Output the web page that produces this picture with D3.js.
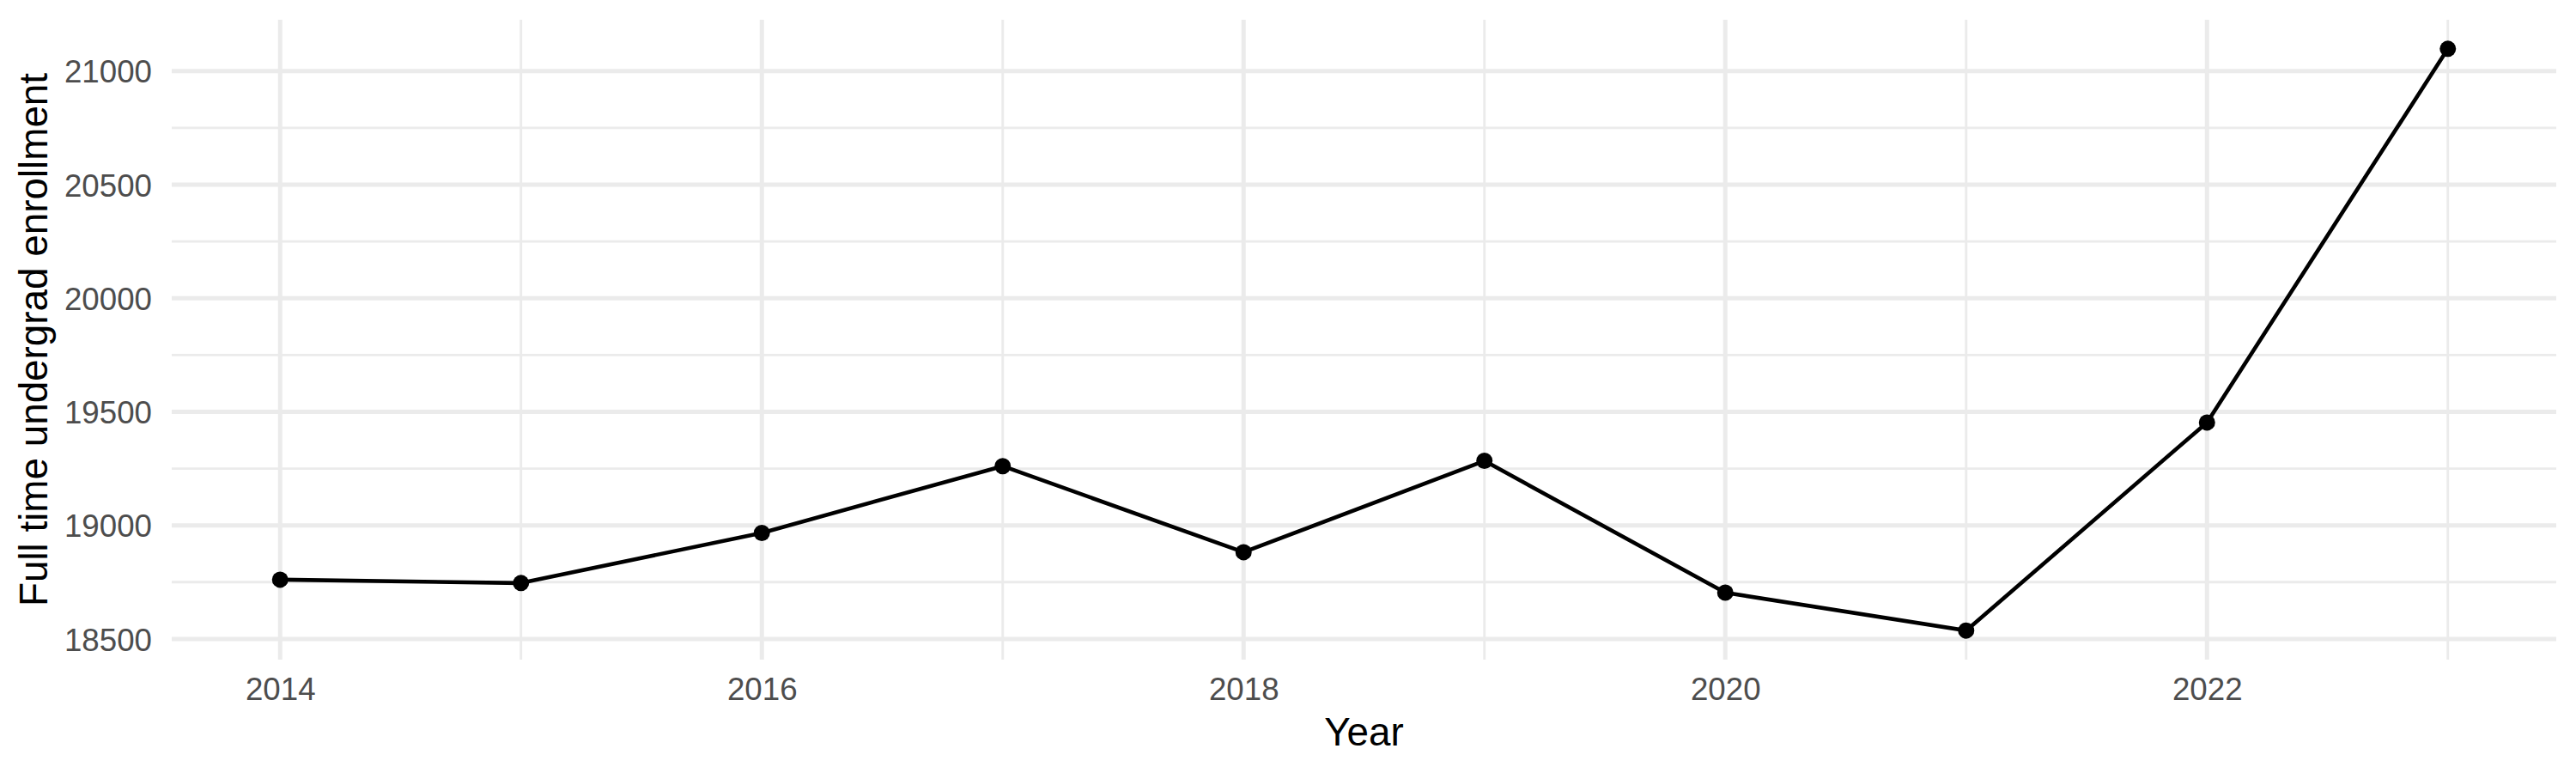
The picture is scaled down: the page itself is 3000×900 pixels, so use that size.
<!DOCTYPE html>
<html>
<head>
<meta charset="utf-8">
<script src="https://cdn.jsdelivr.net/npm/d3@7"></script>
<style>
	body { margin: 0; background: #ffffff; }
	svg text { font-family: "Liberation Sans", Arial, Helvetica, sans-serif; }
</style>
</head>
<body>
<div id="idChart"></div>
<script>
// values
var aYears = [2014, 2015, 2016, 2017, 2018, 2019, 2020, 2021, 2022, 2023];
var aEnrollment = [18761, 18746, 18967, 19261, 18882, 19284, 18704, 18537, 19453, 21098];

var aXMajor = [2014, 2016, 2018, 2020, 2022];
var aXMinor = [2015, 2017, 2019, 2021, 2023];
var aYMajor = [18500, 19000, 19500, 20000, 20500, 21000];
var aYMinor = [18750, 19250, 19750, 20250, 20750];

var sXTitle = "Year";
var sYTitle = "Full time undergrad enrollment";

var iWidth = 3000;
var iHeight = 900;
var oPanel = {left: 200, right: 2977, top: 23, bottom: 768};

var myCanvas = d3.select("#idChart").append("svg")
	.attr("width", iWidth)
	.attr("height", iHeight);

// ggplot style 5% expansion on both axes
var aXExt = d3.extent(aYears);
var fXPad = (aXExt[1] - aXExt[0]) * 0.05;
var aYExt = d3.extent(aEnrollment);
var fYPad = (aYExt[1] - aYExt[0]) * 0.05;

var xScale = d3.scaleLinear()
	.domain([aXExt[0] - fXPad, aXExt[1] + fXPad])
	.range([oPanel.left, oPanel.right]);

var yScale = d3.scaleLinear()
	.domain([aYExt[0] - fYPad, aYExt[1] + fYPad])
	.range([oPanel.bottom, oPanel.top]);

var myGrid = myCanvas.append("g");

// minor grid
myGrid.selectAll(".yMinor").data(aYMinor).enter().append("line")
	.attr("x1", oPanel.left).attr("x2", oPanel.right)
	.attr("y1", function(d) { return yScale(d); })
	.attr("y2", function(d) { return yScale(d); })
	.attr("stroke", "#ebebeb").attr("stroke-width", 2.9);

myGrid.selectAll(".xMinor").data(aXMinor).enter().append("line")
	.attr("y1", oPanel.top).attr("y2", oPanel.bottom)
	.attr("x1", function(d) { return xScale(d); })
	.attr("x2", function(d) { return xScale(d); })
	.attr("stroke", "#ebebeb").attr("stroke-width", 2.9);

// major grid
myGrid.selectAll(".yMajor").data(aYMajor).enter().append("line")
	.attr("x1", oPanel.left).attr("x2", oPanel.right)
	.attr("y1", function(d) { return yScale(d); })
	.attr("y2", function(d) { return yScale(d); })
	.attr("stroke", "#ebebeb").attr("stroke-width", 5);

myGrid.selectAll(".xMajor").data(aXMajor).enter().append("line")
	.attr("y1", oPanel.top).attr("y2", oPanel.bottom)
	.attr("x1", function(d) { return xScale(d); })
	.attr("x2", function(d) { return xScale(d); })
	.attr("stroke", "#ebebeb").attr("stroke-width", 5);

// axes, no domain line or ticks (theme_minimal)
var xAxis = myCanvas.append("g")
	.attr("transform", "translate(0," + oPanel.bottom + ")")
	.call(d3.axisBottom(xScale).tickValues(aXMajor).tickFormat(d3.format("d")).tickSize(0).tickPadding(0));
xAxis.select(".domain").remove();
xAxis.selectAll("text")
	.attr("y", 47)
	.attr("dy", null)
	.attr("fill", "#4d4d4d")
	.style("font-size", "36.7px");

var yAxis = myCanvas.append("g")
	.attr("transform", "translate(" + oPanel.left + ",0)")
	.call(d3.axisLeft(yScale).tickValues(aYMajor).tickFormat(d3.format("d")).tickSize(0).tickPadding(23));
yAxis.select(".domain").remove();
yAxis.selectAll("text")
	.attr("dy", "0.36em")
	.attr("fill", "#4d4d4d")
	.style("font-size", "36.7px");

// line + points
var myLine = d3.line()
	.x(function(d, i) { return xScale(aYears[i]); })
	.y(function(d) { return yScale(d); });

myCanvas.append("path")
	.datum(aEnrollment)
	.attr("d", myLine)
	.attr("fill", "none")
	.attr("stroke", "#000000")
	.attr("stroke-width", 4.6)
	.attr("stroke-linejoin", "round");

myCanvas.selectAll(".EnrollPoint").data(aEnrollment).enter().append("circle")
	.attr("class", "EnrollPoint")
	.attr("cx", function(d, i) { return xScale(aYears[i]); })
	.attr("cy", function(d) { return yScale(d); })
	.attr("r", 9.5)
	.attr("fill", "#000000");

// titles
myCanvas.append("text")
	.attr("x", (oPanel.left + oPanel.right) / 2)
	.attr("y", 868)
	.attr("text-anchor", "middle")
	.attr("fill", "#000000")
	.style("font-size", "45.8px")
	.text(sXTitle);

myCanvas.append("text")
	.attr("transform", "translate(55," + ((oPanel.top + oPanel.bottom) / 2) + ") rotate(-90)")
	.attr("text-anchor", "middle")
	.attr("fill", "#000000")
	.style("font-size", "45.8px")
	.text(sYTitle);
</script>
</body>
</html>
